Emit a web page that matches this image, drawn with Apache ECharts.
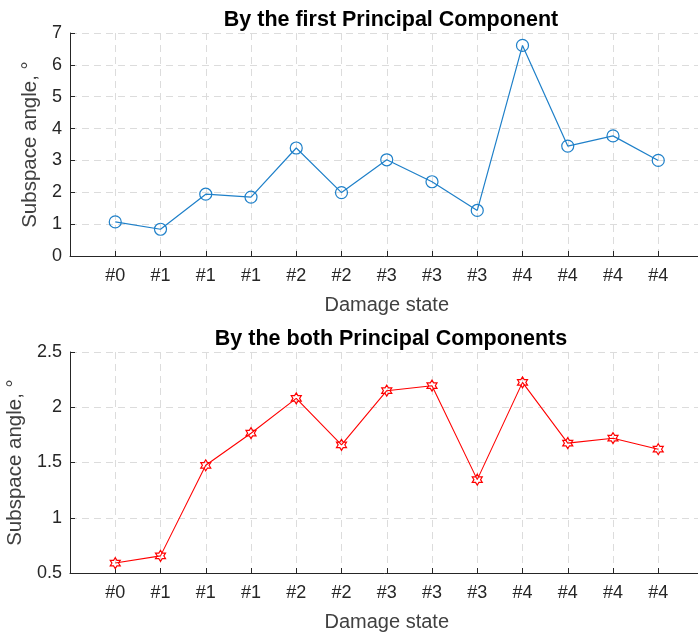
<!DOCTYPE html>
<html>
<head>
<meta charset="utf-8">
<script src="https://cdn.jsdelivr.net/npm/echarts@6/dist/echarts.min.js"></script>
<style>
  html, body { margin: 0; padding: 0; background: #fff; }
  #main { width: 698px; height: 637px; }
</style>
</head>
<body>
<div id="main"></div>
<script>
// damage state labels, one per measurement
var states = ['#0', '#1', '#1', '#1', '#2', '#2', '#3', '#3', '#3', '#4', '#4', '#4', '#4'];
// subspace angle by the first principal component
var firstPC = [1.07, 0.84, 1.94, 1.85, 3.39, 1.99, 3.02, 2.33, 1.43, 6.61, 3.45, 3.77, 3.00];
// subspace angle by both principal components
var bothPC = [0.59, 0.655, 1.475, 1.765, 2.08, 1.66, 2.15, 2.195, 1.345, 2.225, 1.675, 1.72, 1.62];

var titles = ['By the first Principal Component', 'By the both Principal Components'];
var yTitle = 'Subspace angle, \u00b0';
var xTitle = 'Damage state';

var hexagram = 'path://M10,0L12.89,5L18.66,5L15.77,10L18.66,15L12.89,15L10,20L7.11,15L1.34,15L4.23,10L1.34,5L7.11,5Z';

function pairs(vals) {
    var out = [];
    for (var i = 0; i < vals.length; i++) {
        out.push([i + 1, vals[i]]);
    }
    return out;
}

var font = 'Liberation Sans, Arial, sans-serif';
var ink = '#262626';
var gridLine = { show: true, lineStyle: { color: '#dcdcdc', type: [7, 5], width: 1 } };

function xAxisFor(idx) {
    return {
        type: 'value', gridIndex: idx, min: 0, max: 14, interval: 1,
        name: xTitle, nameLocation: 'middle', nameGap: 39,
        nameTextStyle: { color: '#404040', fontSize: 20, fontFamily: font },
        axisLine: { lineStyle: { color: ink, width: 1 } },
        axisTick: { inside: true, length: 5, lineStyle: { color: ink } },
        axisLabel: {
            color: ink, fontSize: 18, fontFamily: font, margin: 11,
            formatter: function (v) { return states[v - 1] || ''; }
        },
        splitLine: gridLine
    };
}

function yAxisFor(idx, min, max, step, gap) {
    return {
        type: 'value', gridIndex: idx, min: min, max: max, interval: step,
        name: yTitle, nameLocation: 'middle', nameGap: gap,
        nameTextStyle: { color: '#404040', fontSize: 20.5, fontFamily: font },
        axisLine: { show: true, lineStyle: { color: ink, width: 1 } },
        axisTick: { show: true, inside: true, length: 5, lineStyle: { color: ink } },
        axisLabel: { color: ink, fontSize: 18, fontFamily: font, margin: 8 },
        splitLine: gridLine
    };
}

var chart = echarts.init(document.getElementById('main'));
var option = {
    animation: false,
    title: [
        { text: titles[0], left: 386, top: 4, textAlign: 'center',
          textStyle: { fontSize: 21.5, fontWeight: 'bold', color: '#000', fontFamily: font } },
        { text: titles[1], left: 386, top: 323, textAlign: 'center',
          textStyle: { fontSize: 21.5, fontWeight: 'bold', color: '#000', fontFamily: font } }
    ],
    grid: [
        { left: 70, right: -5.5, top: 33, bottom: 381, outerBoundsMode: 'none' },
        { left: 70, right: -5.5, top: 352, bottom: 64, outerBoundsMode: 'none' }
    ],
    xAxis: [xAxisFor(0), xAxisFor(1)],
    yAxis: [yAxisFor(0, 0, 7, 1, 26), yAxisFor(1, 0.5, 2.5, 0.5, 43)],
    series: [
        {
            type: 'line', xAxisIndex: 0, yAxisIndex: 0,
            data: pairs(firstPC),
            symbol: 'circle', symbolSize: 12,
            lineStyle: { color: '#1f80c9', width: 1.2 },
            itemStyle: { color: 'rgba(255,255,255,0)', borderColor: '#1f80c9', borderWidth: 1.2 }
        },
        {
            type: 'line', xAxisIndex: 1, yAxisIndex: 1,
            data: pairs(bothPC),
            symbol: hexagram, symbolSize: [10, 11],
            lineStyle: { color: '#FF0000', width: 1.1 },
            itemStyle: { color: 'rgba(255,255,255,0)', borderColor: '#FF0000', borderWidth: 1.2 }
        }
    ]
};
chart.setOption(option);
</script>
</body>
</html>
